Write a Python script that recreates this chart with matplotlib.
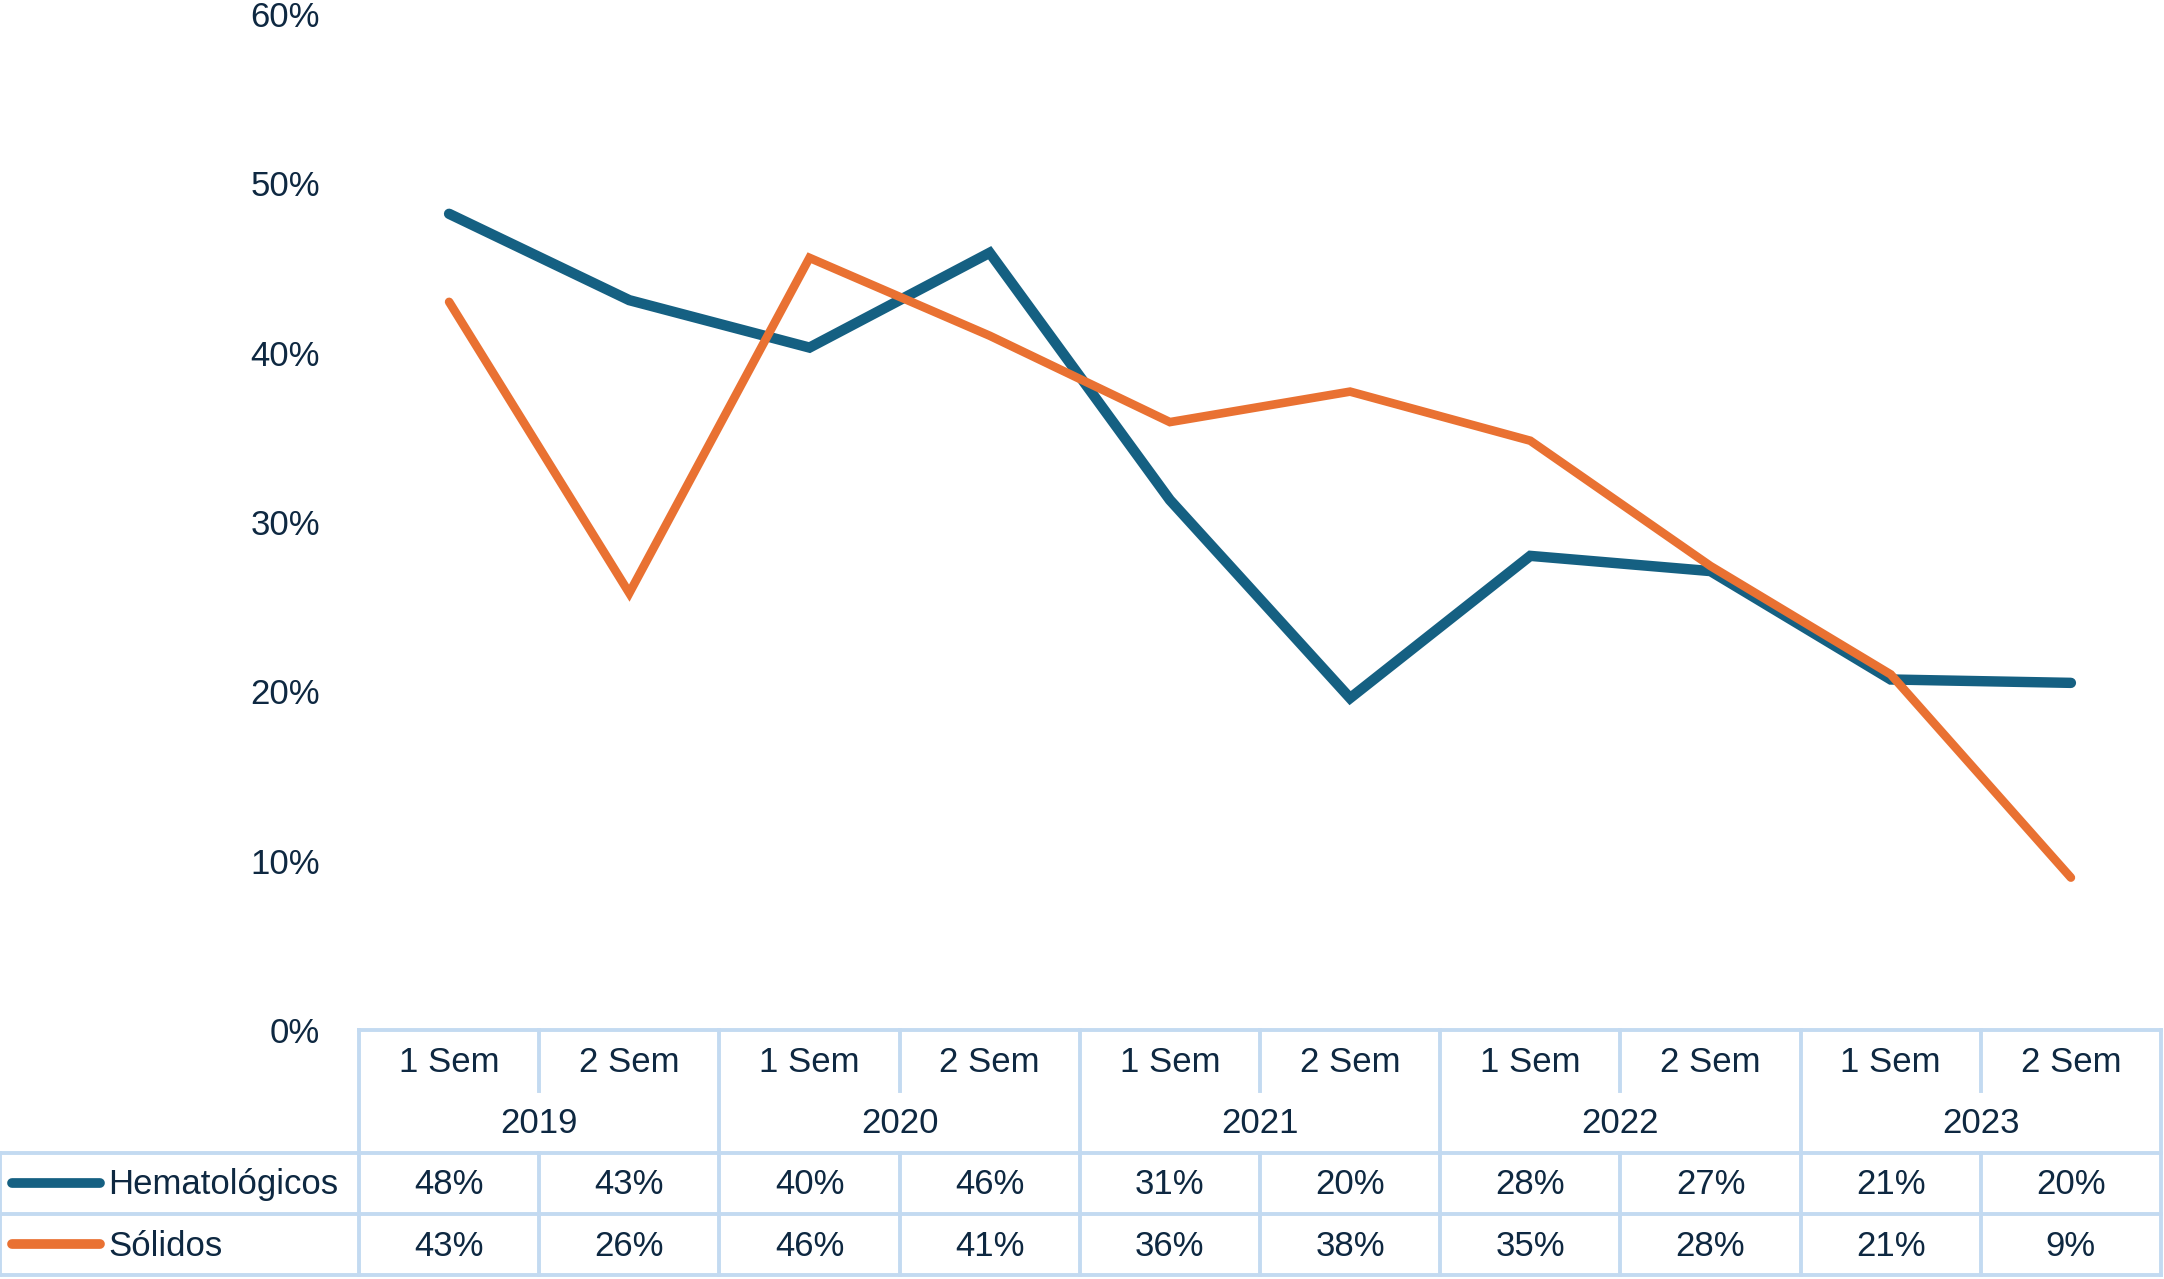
import matplotlib.pyplot as plt
import numpy as np
from matplotlib.ticker import PercentFormatter

plt.rcParams['font.family'] = ['Liberation Sans', 'DejaVu Sans']

years = ['2019', '2020', '2021', '2022', '2023']
semesters = ['1 Sem', '2 Sem']
series_names = ['Hematológicos', 'Sólidos']
hemato = [48.2, 43.1, 40.3, 45.9, 31.3, 19.6, 28.0, 27.1, 20.7, 20.5]
solidos = [43.0, 25.8, 45.6, 41.0, 35.9, 37.7, 34.8, 27.4, 21.0, 9.0]
hemato_lbl = ['48%', '43%', '40%', '46%', '31%', '20%', '28%', '27%', '21%', '20%']
solidos_lbl = ['43%', '26%', '46%', '41%', '36%', '38%', '35%', '28%', '21%', '9%']

colors = ['#156082', '#E97132']
widths = [7.5, 6.2]
text_col = '#0E2841'
grid_col = '#C3DAF1'

W, H = 2164, 1279
fig = plt.figure(figsize=(W / 100, H / 100), dpi=100)

# pixel layout
x0, x1 = 359, 2161
y_axis_bottom, y_axis_top, y_tab_bottom = 1030, 14, 1275

n = len(hemato)
x = np.arange(n)

ax = fig.add_axes([x0 / W, 1 - y_axis_bottom / H, (x1 - x0) / W,
                   (y_axis_bottom - y_axis_top) / H])
for vals, c, lw in zip([hemato, solidos], colors, widths):
    ax.plot(x, vals, color=c, lw=lw, solid_capstyle='round',
            solid_joinstyle='miter')
ax.set_xlim(-0.5, n - 0.5)
ax.set_ylim(0, 60)
ax.set_yticks(np.arange(0, 61, 10))
ax.yaxis.set_major_formatter(PercentFormatter(decimals=0))
ax.tick_params(axis='y', length=0, pad=28, labelsize=25, labelcolor=text_col)
ax.set_xticks([])
for s in ax.spines.values():
    s.set_visible(False)

# data table below the chart
unit = (x1 - x0) / n
x_left = -0.5 - x0 / unit
tab = fig.add_axes([0, 1 - y_tab_bottom / H, x1 / W,
                    (y_tab_bottom - y_axis_bottom) / H])
tab.set_xlim(x_left, n - 0.5)
tab.set_ylim(0, 4)
tab.axis('off')

lk = dict(color=grid_col, lw=2.8, solid_capstyle='projecting', clip_on=False)
tab.plot([-0.5, n - 0.5], [4, 4], **lk)
for yy in [0, 1, 2]:
    tab.plot([x_left, n - 0.5], [yy, yy], **lk)
tab.plot([x_left, x_left], [0, 2], **lk)
for k in range(n + 1):
    xb = k - 0.5
    if k % 2 == 0:
        tab.plot([xb, xb], [0, 4], **lk)
    else:
        tab.plot([xb, xb], [0, 2], **lk)
        tab.plot([xb, xb], [3, 4], **lk)

fs = 25
for i in range(n):
    tab.text(i, 3.47, semesters[i % 2], ha='center', va='center',
             fontsize=fs, color=text_col)
    tab.text(i, 1.47, hemato_lbl[i], ha='center', va='center',
             fontsize=fs, color=text_col)
    tab.text(i, 0.47, solidos_lbl[i], ha='center', va='center',
             fontsize=fs, color=text_col)
for j, yr in enumerate(years):
    tab.text(2 * j + 0.5, 2.47, yr, ha='center', va='center',
             fontsize=fs, color=text_col)

for r, (name, c) in enumerate(zip(series_names, colors)):
    yy = 1.5 - r
    tab.plot([x_left + 12 / unit, x_left + 100 / unit], [yy, yy], color=c,
             lw=7, solid_capstyle='round')
    tab.text(x_left + 108 / unit, yy - 0.03, name, ha='left', va='center',
             fontsize=fs, color=text_col)

fig.savefig('out.png', dpi=100)
